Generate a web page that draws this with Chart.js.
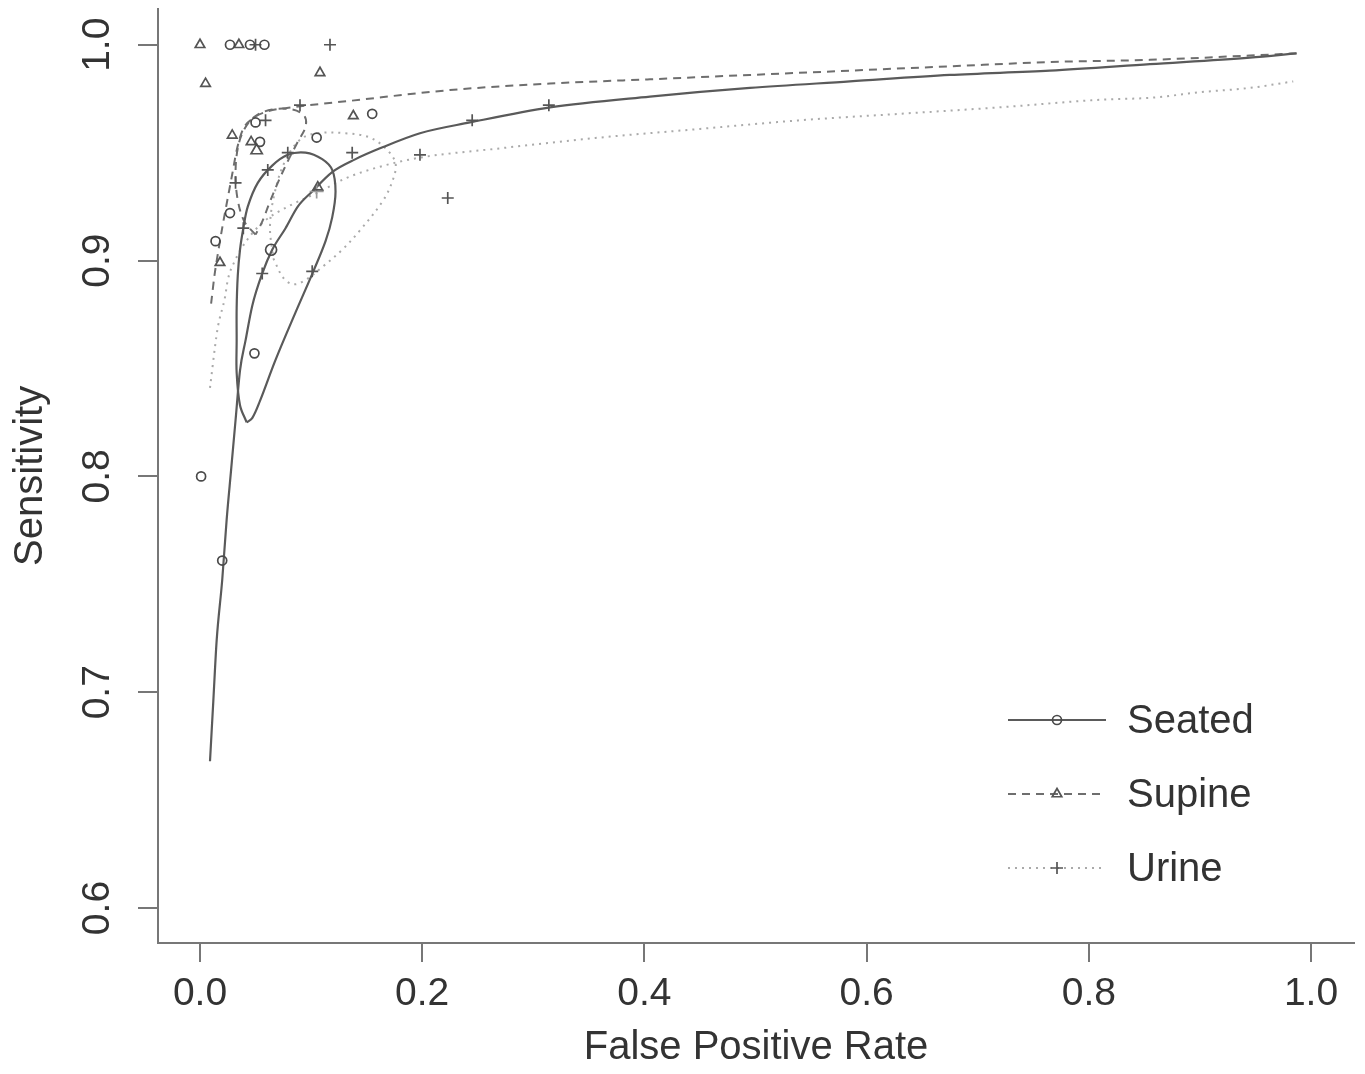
<!DOCTYPE html>
<html>
<head>
<meta charset="utf-8">
<script src="https://cdn.jsdelivr.net/npm/chart.js@4/dist/chart.umd.min.js"></script>
<style>
  html, body { margin: 0; padding: 0; background: #fff; }
  canvas { display: block; }
</style>
</head>
<body>
<canvas id="roc" width="1365" height="1074"></canvas>
<script>
// eixos
const xTicks = [0, 0.2, 0.4, 0.6, 0.8, 1.0];
const yTicks = [0.6, 0.7, 0.8, 0.9, 1.0];
const seriesNames = ['Seated', 'Supine', 'Urine'];

// Seated: curva SROC, elipse de confiança, ponto resumo, estudos
const seatedCurveFpr = [0.009, 0.012, 0.015, 0.020, 0.024, 0.028, 0.032, 0.036, 0.041, 0.047, 0.056, 0.065, 0.077, 0.088, 0.101, 0.119, 0.140, 0.162, 0.198, 0.243, 0.315, 0.405, 0.495, 0.585, 0.675, 0.765, 0.855, 0.945, 0.987];
const seatedCurveSens = [0.668, 0.696, 0.724, 0.752, 0.780, 0.803, 0.826, 0.849, 0.863, 0.879, 0.894, 0.905, 0.915, 0.925, 0.932, 0.941, 0.947, 0.952, 0.959, 0.964, 0.971, 0.976, 0.980, 0.983, 0.986, 0.988, 0.991, 0.994, 0.996];
const seatedEllipseFpr = [0.042, 0.036, 0.033, 0.033, 0.033, 0.034, 0.036, 0.039, 0.043, 0.052, 0.065, 0.079, 0.095, 0.110, 0.119, 0.122, 0.119, 0.113, 0.102, 0.086, 0.068, 0.054, 0.047, 0.042];
const seatedEllipseSens = [0.825, 0.833, 0.848, 0.863, 0.878, 0.893, 0.905, 0.915, 0.925, 0.936, 0.944, 0.949, 0.950, 0.947, 0.942, 0.932, 0.920, 0.909, 0.895, 0.876, 0.854, 0.835, 0.827, 0.825];
const seatedSummaryFpr = [0.064];
const seatedSummarySens = [0.905];
const seatedStudyFpr = [0.027, 0.045, 0.058, 0.050, 0.155, 0.105, 0.054, 0.027, 0.014, 0.049, 0.001, 0.020];
const seatedStudySens = [1.0, 1.0, 1.0, 0.964, 0.968, 0.957, 0.955, 0.922, 0.909, 0.857, 0.800, 0.761];

// Supine
const supineCurveFpr = [0.010, 0.013, 0.017, 0.021, 0.025, 0.029, 0.033, 0.038, 0.048, 0.060, 0.083, 0.135, 0.225, 0.315, 0.405, 0.495, 0.585, 0.675, 0.765, 0.855, 0.945, 0.987];
const supineCurveSens = [0.880, 0.893, 0.906, 0.918, 0.929, 0.940, 0.951, 0.960, 0.966, 0.969, 0.971, 0.974, 0.979, 0.982, 0.984, 0.986, 0.988, 0.990, 0.992, 0.993, 0.995, 0.996];
const supineEllipseFpr = [0.050, 0.040, 0.034, 0.032, 0.034, 0.040, 0.050, 0.065, 0.083, 0.094, 0.095, 0.088, 0.079, 0.070, 0.062, 0.056, 0.050];
const supineEllipseSens = [0.912, 0.918, 0.928, 0.940, 0.952, 0.961, 0.967, 0.970, 0.970, 0.967, 0.962, 0.955, 0.946, 0.936, 0.926, 0.918, 0.912];
const supineSummaryFpr = [0.051];
const supineSummarySens = [0.951];
const supineStudyFpr = [0.0, 0.035, 0.005, 0.108, 0.029, 0.138, 0.046, 0.018, 0.106];
const supineStudySens = [1.0, 1.0, 0.982, 0.987, 0.958, 0.967, 0.955, 0.899, 0.934];

// Urine
const urineCurveFpr = [0.009, 0.0135, 0.016, 0.0225, 0.025, 0.0315, 0.043, 0.0585, 0.081, 0.108, 0.1305, 0.162, 0.198, 0.27, 0.36, 0.45, 0.54, 0.63, 0.72, 0.81, 0.858, 0.90, 0.945, 0.984];
const urineCurveSens = [0.841, 0.860, 0.869, 0.883, 0.891, 0.900, 0.910, 0.9185, 0.9255, 0.932, 0.938, 0.9435, 0.9477, 0.952, 0.957, 0.961, 0.965, 0.968, 0.971, 0.9745, 0.9755, 0.978, 0.980, 0.983];
const urineEllipseFpr = [0.066, 0.075, 0.084, 0.095, 0.110, 0.128, 0.144, 0.165, 0.174, 0.176, 0.169, 0.153, 0.131, 0.105, 0.090, 0.0765, 0.0675, 0.063, 0.066];
const urineEllipseSens = [0.901, 0.892, 0.889, 0.891, 0.897, 0.905, 0.914, 0.928, 0.938, 0.945, 0.951, 0.957, 0.959, 0.959, 0.956, 0.946, 0.932, 0.916, 0.901];
const urineSummaryFpr = [0.105];
const urineSummarySens = [0.932];
const urineStudyFpr = [0.117, 0.050, 0.090, 0.059, 0.079, 0.198, 0.061, 0.032, 0.223, 0.056, 0.101, 0.245, 0.314, 0.137, 0.039];
const urineStudySens = [1.0, 1.0, 0.972, 0.965, 0.950, 0.949, 0.942, 0.936, 0.929, 0.894, 0.895, 0.965, 0.972, 0.950, 0.915];

const fontFamily = "'Liberation Sans', Arial, Helvetica, sans-serif";
const textColor = '#333';
const axisColor = '#777';

function pontos(xs, ys) {
    return xs.map((x, i) => ({ x: x, y: ys[i] }));
}

function linha(xs, ys, cor, tracejado, largura, fechada) {
    return {
        data: pontos(xs, ys),
        showLine: true,
        borderColor: cor,
        borderDash: tracejado,
        borderWidth: largura,
        pointRadius: 0,
        fill: false,
        tension: fechada ? 0.35 : 0,
        cubicInterpolationMode: fechada ? 'default' : 'monotone',
        order: 2
    };
}

function marcas(xs, ys, estilo, cor, raio) {
    return {
        data: pontos(xs, ys),
        showLine: false,
        pointStyle: estilo,
        pointRadius: raio,
        pointBorderColor: cor,
        pointBackgroundColor: 'rgba(0,0,0,0)',
        pointBorderWidth: 1.7,
        order: 1
    };
}

const estilos = [
    { cor: '#5a5a5a', marca: '#4a4a4a', tracejado: [], largura: 2.2, ponto: 'circle', raio: 4.5 },
    { cor: '#6e6e6e', marca: '#555', tracejado: [8, 6], largura: 2, ponto: 'triangle', raio: 5.5 },
    { cor: '#aaaaaa', marca: '#555', tracejado: [2, 5], largura: 2, ponto: 'cross', raio: 6 }
];

const datasets = [
    linha(seatedCurveFpr, seatedCurveSens, estilos[0].cor, estilos[0].tracejado, estilos[0].largura, false),
    linha(seatedEllipseFpr, seatedEllipseSens, estilos[0].cor, estilos[0].tracejado, estilos[0].largura, true),
    marcas(seatedSummaryFpr, seatedSummarySens, 'circle', estilos[0].marca, 5.5),
    marcas(seatedStudyFpr, seatedStudySens, 'circle', estilos[0].marca, estilos[0].raio),

    linha(supineCurveFpr, supineCurveSens, estilos[1].cor, estilos[1].tracejado, estilos[1].largura, false),
    linha(supineEllipseFpr, supineEllipseSens, estilos[1].cor, estilos[1].tracejado, estilos[1].largura, true),
    marcas(supineSummaryFpr, supineSummarySens, 'triangle', estilos[1].marca, 6.5),
    marcas(supineStudyFpr, supineStudySens, 'triangle', estilos[1].marca, estilos[1].raio),

    linha(urineCurveFpr, urineCurveSens, estilos[2].cor, estilos[2].tracejado, estilos[2].largura, false),
    linha(urineEllipseFpr, urineEllipseSens, estilos[2].cor, estilos[2].tracejado, estilos[2].largura, true),
    marcas(urineSummaryFpr, urineSummarySens, 'cross', '#999', 7),
    marcas(urineStudyFpr, urineStudySens, 'cross', estilos[2].marca, estilos[2].raio)
];

// legenda no canto inferior direito, como no R
const legendaR = {
    id: 'legendaR',
    afterDraw(chart) {
        const ctx = chart.ctx;
        const area = chart.chartArea;
        const x0 = area.right - 346;
        const x1 = area.right - 248;
        const xm = (x0 + x1) / 2;
        ctx.save();
        seriesNames.forEach((nome, i) => {
            const y = area.bottom - 223 + i * 74;
            const e = estilos[i];
            ctx.strokeStyle = e.cor;
            ctx.lineWidth = e.largura;
            ctx.setLineDash(e.tracejado);
            ctx.beginPath();
            ctx.moveTo(x0, y);
            ctx.lineTo(x1, y);
            ctx.stroke();
            ctx.setLineDash([]);
            ctx.strokeStyle = e.marca;
            ctx.fillStyle = 'rgba(0,0,0,0)';
            ctx.lineWidth = 1.7;
            Chart.helpers.drawPoint(ctx, { pointStyle: e.ponto, radius: e.raio, rotation: 0, borderWidth: 1.7 }, xm, y);
            ctx.fillStyle = textColor;
            ctx.font = '40px ' + fontFamily;
            ctx.textAlign = 'left';
            ctx.textBaseline = 'middle';
            ctx.fillText(nome, x1 + 21, y + 2);
        });
        ctx.restore();
    }
};

new Chart(document.getElementById('roc'), {
    type: 'scatter',
    data: { datasets: datasets },
    options: {
        responsive: false,
        animation: false,
        layout: { padding: { top: 8, right: 11, left: 0, bottom: 0 } },
        plugins: {
            legend: { display: false },
            tooltip: { enabled: false }
        },
        scales: {
            x: {
                type: 'linear',
                min: -0.0378,
                max: 1.0387,
                afterBuildTicks: s => { s.ticks = xTicks.map(v => ({ value: v })); },
                afterFit: s => { s.height = 131; s.paddingLeft = 0; s.paddingRight = 0; },
                grid: { display: true, drawOnChartArea: false, drawTicks: true, tickLength: 19, color: axisColor, lineWidth: 2 },
                border: { display: true, color: axisColor, width: 2 },
                ticks: {
                    color: textColor,
                    font: { family: fontFamily, size: 39 },
                    padding: 9,
                    maxRotation: 0,
                    callback: v => v.toFixed(1)
                },
                title: {
                    display: true,
                    text: 'False Positive Rate',
                    color: textColor,
                    font: { family: fontFamily, size: 40 },
                    padding: { top: 0, bottom: 2 }
                }
            },
            y: {
                type: 'linear',
                min: 0.5838,
                max: 1.0167,
                afterBuildTicks: s => { s.ticks = yTicks.map(v => ({ value: v })); },
                afterFit: s => { s.width = 158; s.paddingTop = 0; s.paddingBottom = 0; },
                grid: { display: true, drawOnChartArea: false, drawTicks: true, tickLength: 20, color: axisColor, lineWidth: 2 },
                border: { display: true, color: axisColor, width: 2 },
                ticks: {
                    color: textColor,
                    font: { family: fontFamily, size: 39 },
                    padding: 13,
                    minRotation: 90,
                    maxRotation: 90,
                    crossAlign: 'center',
                    callback: v => v.toFixed(1)
                },
                title: {
                    display: true,
                    text: 'Sensitivity',
                    color: textColor,
                    font: { family: fontFamily, size: 40 },
                    padding: { top: 7, bottom: 0 }
                }
            }
        }
    },
    plugins: [legendaR]
});
</script>
</body>
</html>
